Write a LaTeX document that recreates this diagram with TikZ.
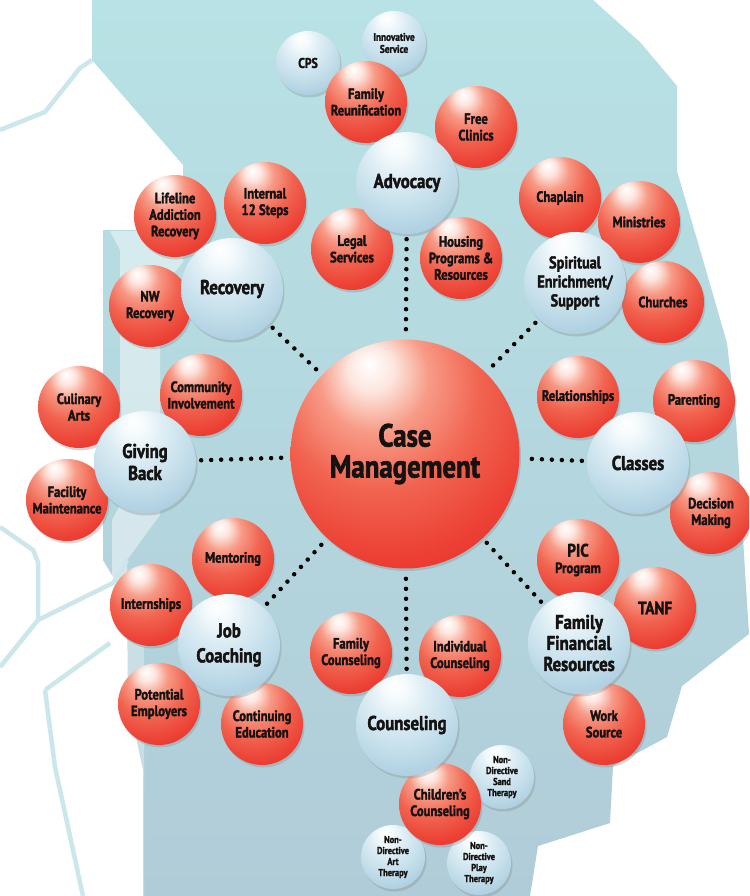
\documentclass[tikz,border=0pt]{standalone}
\usepackage{fontspec}
\setmainfont{PT Sans}[FakeStretch=0.84,BoldFeatures={FakeBold=2}]
\usetikzlibrary{shadows}
\definecolor{tealtop}{HTML}{B8E2E5}
\definecolor{tealbot}{HTML}{B0CCD8}
\definecolor{tealline}{HTML}{CBE7EB}
\definecolor{inktext}{HTML}{151212}
\definecolor{redA}{HTML}{FDE6DF}
\definecolor{redB}{HTML}{F79A86}
\definecolor{redC}{HTML}{F16450}
\definecolor{redD}{HTML}{EC3F33}
\definecolor{redE}{HTML}{E8292B}
\definecolor{redF}{HTML}{DF2127}
\definecolor{bluA}{HTML}{F4FAFC}
\definecolor{bluB}{HTML}{DDEDF4}
\definecolor{bluC}{HTML}{C3DEEA}
\definecolor{bluD}{HTML}{A9CCDF}
\definecolor{bluE}{HTML}{95BFD6}
\definecolor{bluF}{HTML}{86B2CB}
\pgfdeclareradialshading{redglass}{\pgfpoint{-8bp}{20bp}}{color(0bp)=(white); color(5bp)=(redA); color(12bp)=(redB); color(22bp)=(redC); color(34bp)=(redD); color(46bp)=(redE); color(75bp)=(redF)}
\pgfdeclareradialshading{blueglass}{\pgfpoint{-6bp}{20bp}}{color(0bp)=(white); color(6bp)=(bluA); color(14bp)=(bluB); color(26bp)=(bluC); color(38bp)=(bluD); color(50bp)=(bluE); color(75bp)=(bluF)}

\begin{document}
\begin{tikzpicture}[x=1pt,y=-1pt,
    bubble/.style={circle,inner sep=0pt,align=center,text=inktext,
        drop shadow={opacity=.3,shadow xshift=1.5pt,shadow yshift=-2.5pt}},
    redbubble/.style={bubble,shading=redglass,minimum size=82pt,
        font=\fontsize{15}{16.5}\selectfont\bfseries},
    hubbubble/.style={bubble,shading=blueglass,minimum size=102pt,
        font=\fontsize{20}{23}\selectfont\bfseries},
    smallbubble/.style={bubble,shading=blueglass,minimum size=64pt,
        font=\fontsize{10}{11}\selectfont\bfseries},
    countyline/.style={tealline,line width=4.5pt,line join=round},
    dotlink/.style={line width=4.5pt,line cap=round,dash pattern=on 0pt off 10pt,
        shorten <=5pt,shorten >=5pt}]
                \useasboundingbox (0,0) rectangle (749,896);
                \clip (0,0) rectangle (749,896);
                \fill[white] (0,0) rectangle (749,896);
                \shade[top color=tealtop,bottom color=tealbot] (92,0) -- (593,0) -- (640,42) -- (677,86) -- (677,171) -- (703,260) -- (727,343) -- (736,420) -- (745,571) -- (749,634) -- (682,686) -- (667,737) -- (613,766) -- (610,823) -- (538,846) -- (530,896) -- (143,896) -- (143,770) -- (128,700) -- (127,600) -- (103,560) -- (103,230) -- (183,230) -- (183,165) -- (92,60) -- cycle;
                \fill[white,opacity=.45] (110,231) -- (183,231) -- (183,262) -- (160,290) -- (160,515) -- (127,560) -- (127,610) -- (112,610) -- (112,520) -- (120,505) -- (120,250) -- cycle;
                \fill[white,opacity=.3] (127,640) -- (144,640) -- (144,896) -- (131,896) -- cycle;
                \draw[countyline] (0,130) -- (45,112) -- (80,68) -- (92,60);
                \draw[countyline] (0,527) -- (33,550) -- (38,562) -- (38,620) -- (0,667);
                \draw[countyline] (38,620) -- (113,583) -- (127,560);
                \draw[countyline] (45,690) -- (110,643);
                \draw[countyline] (45,690) -- (55,767) -- (83,896);

                \node[smallbubble,font=\fontsize{14}{15}\selectfont\bfseries] (cps) at (308,63) {CPS};
                \node[smallbubble,font=\fontsize{11}{12}\selectfont\bfseries] (innov) at (394,43) {Innovative\\Service};
                \node[smallbubble] (sand) at (502,777) {Non-\\Directive\\Sand\\Therapy};
                \node[smallbubble] (art) at (393,857) {Non-\\Directive\\Art\\Therapy};
                \node[smallbubble] (play) at (479,863) {Non-\\Directive\\Play\\Therapy};

                \node[redbubble] (reunif) at (366,102) {Family\\Reunification};
                \node[redbubble] (clinic) at (476,127) {Free\\Clinics};
                \node[redbubble] (legal) at (352,249) {Legal\\Services};
                \node[redbubble] (housing) at (461,258) {Housing\\Programs \&\\Resources};
                \node[redbubble] (lifeline) at (175,216) {Lifeline\\Addiction\\Recovery};
                \node[redbubble] (steps) at (265,203) {Internal\\12 Steps};
                \node[redbubble] (nwrec) at (150,306) {NW\\Recovery};
                \node[redbubble] (chaplain) at (560,198) {Chaplain};
                \node[redbubble] (ministry) at (639,222) {Ministries};
                \node[redbubble] (church) at (663,302) {Churches};
                \node[redbubble] (culinary) at (79,407) {Culinary\\Arts};
                \node[redbubble] (community) at (201,395) {Community\\Involvement};
                \node[redbubble] (facility) at (67,500) {Facility\\Maintenance};
                \node[redbubble] (relation) at (578,397) {Relationships};
                \node[redbubble] (parent) at (694,401) {Parenting};
                \node[redbubble] (decision) at (711,513) {Decision\\Making};
                \node[redbubble] (mentor) at (233,559) {Mentoring};
                \node[redbubble] (pic) at (578,560) {{\fontsize{18}{18}\selectfont PIC}\\Program};
                \node[redbubble] (intern) at (151,605) {Internships};
                \node[redbubble] (employ) at (159,704) {Potential\\Employers};
                \node[redbubble] (contedu) at (262,724) {Continuing\\Education};
                \node[redbubble] (famcns) at (351,653) {Family\\Counseling};
                \node[redbubble] (indcns) at (460,656) {Individual\\Counseling};
                \node[redbubble,font=\fontsize{18}{18}\selectfont\bfseries] (tanf) at (655,608) {TANF};
                \node[redbubble] (work) at (604,724) {Work\\Source};
                \node[redbubble] (child) at (440,804) {Children’s\\Counseling};

                \node[hubbubble] (adv) at (407,183) {Advocacy};
                \node[hubbubble,font=\fontsize{17}{19}\selectfont\bfseries] (spir) at (575,283) {Spiritual\\Enrichment/\\Support};
                \node[hubbubble] (cls) at (638,463) {Classes};
                \node[hubbubble,font=\fontsize{20}{21}\selectfont\bfseries] (ffr) at (579,643) {Family\\Financial\\Resources};
                \node[hubbubble] (cns) at (407,725) {Counseling};
                \node[hubbubble,font=\fontsize{20}{25}\selectfont\bfseries] (job) at (229,645) {Job\\Coaching};
                \node[hubbubble,font=\fontsize{20}{22}\selectfont\bfseries] (give) at (145,462) {Giving\\Back};
                \node[hubbubble] (rec) at (232,289) {Recovery};

                \node[bubble,shading=redglass,minimum size=229pt,font=\fontsize{32}{31}\selectfont\bfseries] (case) at (405,454) {Case\\Management};

                \draw[dotlink] (adv) -- (case);
                \draw[dotlink] (spir) -- (case);
                \draw[dotlink] (cls) -- (case);
                \draw[dotlink] (ffr) -- (case);
                \draw[dotlink] (cns) -- (case);
                \draw[dotlink] (job) -- (case);
                \draw[dotlink] (give) -- (case);
                \draw[dotlink] (rec) -- (case);
            \end{tikzpicture}
\end{document}
